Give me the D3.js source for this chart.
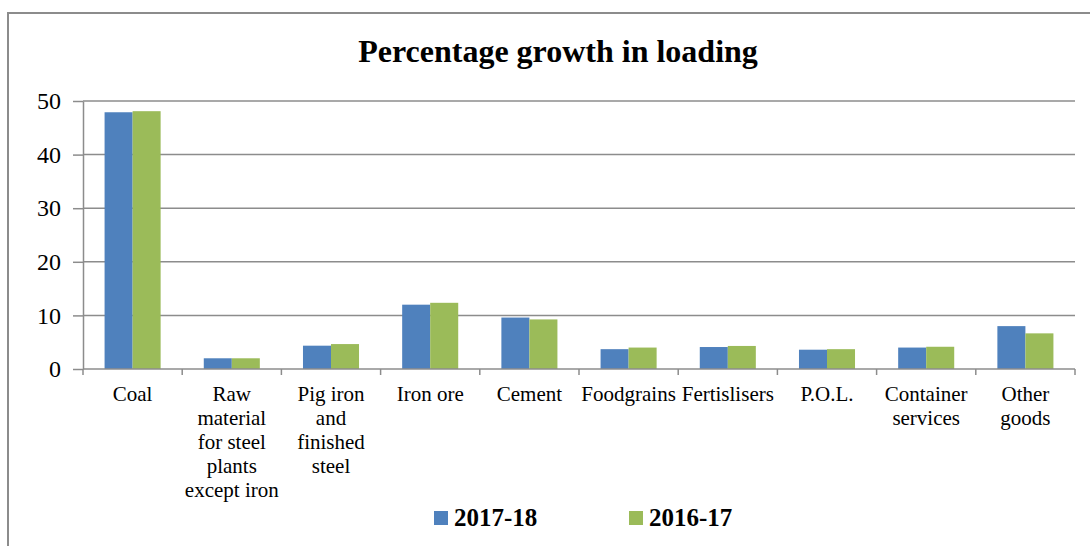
<!DOCTYPE html>
<meta charset="utf-8">
<head>
<style>
body { margin: 0; background: #fff; }
svg text { font-family: "Liberation Serif", "Times New Roman", Times, serif; fill: #000; }
.grid line { stroke: #8c8c8c; stroke-width: 1.5px; }
.axis path, .axis line { stroke: #8c8c8c; stroke-width: 1.5px; fill: none; }
</style>
<script src="https://d3js.org/d3.v7.min.js"></script>
</head>
<body>
<div id="chart"></div>
<script>

var categories = [
  ["Coal"],
  ["Raw", "material", "for steel", "plants", "except iron"],
  ["Pig iron", "and", "finished", "steel"],
  ["Iron ore"],
  ["Cement"],
  ["Foodgrains"],
  ["Fertislisers"],
  ["P.O.L."],
  ["Container", "services"],
  ["Other", "goods"]
];
var seriesNames = ["2017-18", "2016-17"];
var values2017 = [47.9, 2.0, 4.35, 12.0, 9.6, 3.7, 4.1, 3.6, 4.0, 8.0];
var values2016 = [48.1, 2.0, 4.65, 12.35, 9.25, 4.0, 4.3, 3.7, 4.15, 6.65];
var yTicks = [0, 10, 20, 30, 40, 50];
var colors = ["#4f81bd", "#9bbb59"];

var W = 1090, H = 546;
var plot = {left: 83, right: 1075, top: 101, bottom: 369};
var serif = '"Liberation Serif", "Times New Roman", Times, serif';

var svg = d3.select("#chart").append("svg")
  .attr("width", W)
  .attr("height", H);

// outer frame (left and top edges visible)
svg.append("rect")
  .attr("x", 8).attr("y", 13)
  .attr("width", 1200).attr("height", 700)
  .attr("fill", "none")
  .attr("stroke", "#8c8c8c")
  .attr("stroke-width", 2);

svg.append("text")
  .attr("x", 558).attr("y", 62)
  .attr("text-anchor", "middle")
  .style("font-family", serif)
  .style("font-size", "32px")
  .style("font-weight", "bold")
  .text("Percentage growth in loading");

var idx = d3.range(categories.length);
var x = d3.scaleBand().domain(idx).range([plot.left, plot.right]).padding(0);
var xInner = d3.scaleBand().domain(seriesNames).range([0, x.bandwidth()])
  .paddingInner(0).paddingOuter(0.77);
var y = d3.scaleLinear().domain([0, 50]).range([plot.bottom, plot.top]);

// gridlines
svg.append("g").attr("class", "grid")
  .selectAll("line")
  .data(yTicks.filter(function(d) { return d > 0; }))
  .enter().append("line")
    .attr("x1", plot.left).attr("x2", plot.right)
    .attr("y1", function(d) { return y(d); })
    .attr("y2", function(d) { return y(d); });

// y axis
var yAxis = svg.append("g").attr("class", "axis")
  .attr("transform", "translate(" + plot.left + ",0)")
  .call(d3.axisLeft(y).tickValues(yTicks).tickSize(10).tickPadding(12).tickSizeOuter(0))
  .attr("font-family", serif)
  .attr("font-size", 24);
yAxis.selectAll("text")
  .style("font-size", "24px")
  .style("font-family", serif);

// bars
var dataReady = idx.map(function(i) {
  return [
    {name: seriesNames[0], value: values2017[i]},
    {name: seriesNames[1], value: values2016[i]}
  ];
});
var groups = svg.selectAll(".cat")
  .data(dataReady)
  .enter().append("g")
    .attr("class", "cat")
    .attr("transform", function(d, i) { return "translate(" + x(i) + ",0)"; });
groups.selectAll("rect")
  .data(function(d) { return d; })
  .enter().append("rect")
    .attr("x", function(d) { return xInner(d.name); })
    .attr("width", xInner.bandwidth())
    .attr("y", function(d) { return y(d.value); })
    .attr("height", function(d) { return y(0) - y(d.value); })
    .attr("fill", function(d, i) { return colors[i]; });

// x axis line and ticks between categories
var xg = svg.append("g").attr("class", "axis");
xg.append("line")
  .attr("x1", plot.left).attr("x2", plot.right)
  .attr("y1", y(0)).attr("y2", y(0));
xg.selectAll(".tk")
  .data(d3.range(categories.length + 1))
  .enter().append("line")
    .attr("x1", function(d) { return plot.left + d * x.step(); })
    .attr("x2", function(d) { return plot.left + d * x.step(); })
    .attr("y1", y(0)).attr("y2", y(0) + 6);

// category labels
var labels = svg.selectAll(".lbl")
  .data(categories)
  .enter().append("text")
    .attr("class", "lbl")
    .attr("text-anchor", "middle")
    .attr("x", function(d, i) { return x(i) + x.bandwidth() / 2; })
    .attr("y", 401)
    .style("font-family", serif)
    .style("font-size", "21px");
labels.selectAll("tspan")
  .data(function(d) { return d; })
  .enter().append("tspan")
    .attr("x", function() { return d3.select(this.parentNode).attr("x"); })
    .attr("dy", function(d, i) { return i === 0 ? 0 : 24; })
    .text(function(d) { return d; });

// legend
var legendX = [434, 629];
var legend = svg.selectAll(".leg")
  .data(seriesNames)
  .enter().append("g")
    .attr("class", "leg")
    .attr("transform", function(d, i) { return "translate(" + legendX[i] + ",511)"; });
legend.append("rect")
  .attr("width", 14).attr("height", 14)
  .attr("fill", function(d, i) { return colors[i]; });
legend.append("text")
  .attr("x", 20).attr("y", 15)
  .style("font-family", serif)
  .style("font-size", "25px")
  .style("font-weight", "bold")
  .text(function(d) { return d; });

</script>
</body>
</html>
